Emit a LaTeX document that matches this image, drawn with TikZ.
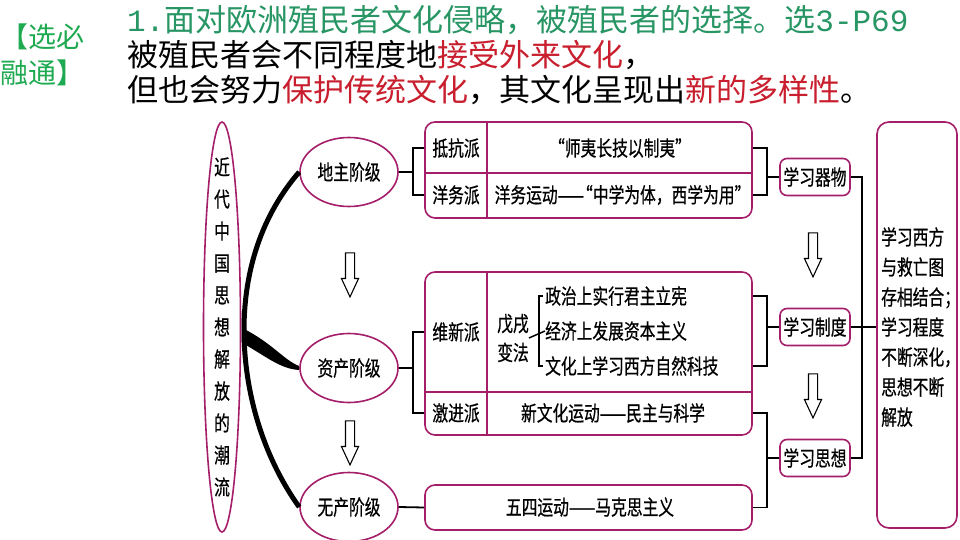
\documentclass[tikz,border=0pt]{standalone}
\usepackage{fontspec}
\newfontfamily\cjk{Noto Sans CJK SC}
\newfontfamily\cjkschmal[FakeStretch=0.75,FakeBold=0.6]{Noto Sans CJK SC}
\newfontfamily\ziffern{Liberation Mono}
\usetikzlibrary{shapes.geometric,shapes.arrows}
\definecolor{rahmen}{RGB}{165,30,105}
\definecolor{gruen}{RGB}{40,150,100}
\definecolor{hellgruen}{RGB}{30,170,80}
\definecolor{rot}{RGB}{200,30,45}
\newcommand{\dgfont}{\cjkschmal\fontsize{21}{24}\selectfont}
\tikzset{
  kopf/.style={anchor=west, inner sep=0pt, font=\cjk\fontsize{31}{34}\selectfont},
  stufe/.style={ellipse, draw=rahmen, line width=1.6pt, minimum width=98pt,
    minimum height=69pt, inner sep=0pt, font=\dgfont},
  tafel/.style={draw=rahmen, line width=1.6pt, rounded corners=10pt, inner sep=0pt},
  lernbox/.style={draw=rahmen, line width=1.6pt, rounded corners=7pt,
    minimum width=70pt, minimum height=37pt, inner sep=0pt, font=\dgfont},
  feld/.style={inner sep=0pt, font=\dgfont},
  teiler/.style={draw=rahmen, line width=1.4pt},
  verbindung/.style={line width=1.8pt, black},
  pfeil/.style={single arrow, draw, line width=1.1pt, shape border rotate=270,
    minimum height=44pt, inner sep=4pt, single arrow head extend=4pt,
    single arrow tip angle=50}
}
\begin{document}
\begin{tikzpicture}[x=1pt,y=-1pt]
  \useasboundingbox (0,0) rectangle (960,540);
  \fill[white] (0,0) rectangle (960,540);

  % Kopfzeilen
  \node[kopf, text=hellgruen, font=\cjk\fontsize{28}{30}\selectfont] (marke1) at (0,37) {【选必};
  \node[kopf, text=hellgruen, font=\cjk\fontsize{28}{30}\selectfont] (marke2) at (0,73) {融通】};
  \node[kopf, text=gruen] (titel) at (127,20) {{\ziffern 1.}面对欧洲殖民者文化侵略，被殖民者的选择。选{\ziffern 3-P69}};
  \node[kopf] (zeile1) at (127,55) {被殖民者会不同程度地\textcolor{rot}{接受外来文化}，};
  \node[kopf] (zeile2) at (127,90) {但也会努力\textcolor{rot}{保护传统文化}，其文化呈现出\textcolor{rot}{新的多样性}。};

  % linke Ellipse
  \node[feld, align=center, font=\cjkschmal\fontsize{21}{32}\selectfont] (strom) at (222,327)
    {近\\代\\中\\国\\思\\想\\解\\放\\的\\潮\\流};
  \draw[draw=rahmen, line width=1.6pt] (strom.center) ellipse [x radius=18.5, y radius=205];

  % Klassen
  \node[stufe] (dizhu) at (349,172) {地主阶级};
  \node[stufe] (zichan) at (349,368) {资产阶级};
  \node[stufe] (wuchan) at (349,507) {无产阶级};
  \node[pfeil] (pf1) at (350,270) {};
  \node[pfeil] (pf2) at (350,438) {};

  % dicker Bogen
  \draw[line width=5pt] (dizhu.west) .. controls (262,215) and (244,270) .. (244,330)
    .. controls (244,390) and (262,455) .. (wuchan.west);
  \fill (244,329) .. controls (272,343) and (285,361) .. ([yshift=2pt]zichan.west)
    -- ([yshift=-2pt]zichan.west) .. controls (280,369) and (264,355) .. (244,344) -- cycle;

  % Tafeln
  \node[tafel, minimum width=327pt, minimum height=96pt] (p1) at (588.5,170) {};
  \draw[teiler] (487,122) -- (487,218);
  \draw[teiler] (425,173) -- (752,173);
  \node[feld] (kang) at (456,148) {抵抗派};
  \node[feld] (kangtxt) at (620,148) {\kern-4pt“师夷长技以制夷”\kern-4pt};
  \node[feld] (yang) at (456,195) {洋务派};
  \node[feld] (yangtxt) at (619,195) {洋务运动——\kern-7pt“中学为体，西学为用”\kern-7pt};

  \node[tafel, minimum width=327pt, minimum height=163pt] (p2) at (588.5,353.5) {};
  \draw[teiler] (487,272) -- (487,435);
  \draw[teiler] (425,392) -- (752,392);
  \node[feld] (weixin) at (456,332) {维新派};
  \node[feld, align=center, font=\cjkschmal\fontsize{21}{29}\selectfont] (wuxu) at (513,338) {戊戌\\变法};
  \node[feld, anchor=west] (zz) at (545,296) {政治上实行君主立宪};
  \node[feld, anchor=west] (jj) at (545,331) {经济上发展资本主义};
  \node[feld, anchor=west] (wh) at (545,366) {文化上学习西方自然科技};
  \node[feld] (jijin) at (456,413) {激进派};
  \node[feld] (jijintxt) at (613,413) {新文化运动——民主与科学};

  \node[tafel, minimum width=327pt, minimum height=45pt] (p3) at (588.5,507.5) {};
  \node[feld] (wusi) at (590,507) {五四运动——马克思主义};

  % rechte Spalte
  \node[lernbox] (qiwu) at (815,177) {学习器物};
  \node[lernbox] (zhidu) at (815,327) {学习制度};
  \node[lernbox] (sixiang) at (815,458) {学习思想};
  \node[pfeil] (pf3) at (813,250) {};
  \node[pfeil] (pf4) at (813,391) {};

  \node[tafel, rounded corners=12pt, minimum width=80pt, minimum height=406pt] (ziel) at (917,325) {};
  \node[feld, anchor=west, align=left, font=\cjkschmal\fontsize{21}{30}\selectfont] (fazit) at (881,327)
    {学习西方\\与救亡图\\存相结合；\\学习程度\\不断深化，\\思想不断\\解放};

  % Verbindungen
  \coordinate (l1) at (413,172);
  \coordinate (l2) at (413,368);
  \coordinate (bw) at (539,331);
  \coordinate (r1) at (767,177);
  \coordinate (r2) at (767,327);
  \coordinate (r3) at (767,458);
  \coordinate (r4) at (862,327);
  \draw[verbindung] (dizhu.east) -- (l1);
  \draw[verbindung] (p1.west |- kang) -| (l1) |- (p1.west |- yang);
  \draw[verbindung] (zichan.east) -- (l2);
  \draw[verbindung] (p2.west |- weixin) -| (l2) |- (p2.west |- jijin);
  \draw[verbindung] (wuchan.east) -- (p3.west);
  \draw[verbindung, line width=1.5pt] (wuxu.east) -- (jj.west);
  \draw[verbindung, line width=1.5pt] ([xshift=-2pt]zz.west) -| (bw) |- ([xshift=-2pt]wh.west);
  \draw[verbindung] (p1.east |- kang) -| (r1) |- (p1.east |- yang);
  \draw[verbindung] (r1) -- (qiwu.west);
  \draw[verbindung] (p2.east |- zz) -| (r2) |- (p2.east |- wh);
  \draw[verbindung] (r2) -- (zhidu.west);
  \draw[verbindung] (p2.east |- jijin) -| (r3) |- (p3.east);
  \draw[verbindung] (r3) -- (sixiang.west);
  \draw[verbindung] (qiwu.east) -| (r4) |- (sixiang.east);
  \draw[verbindung] (zhidu.east) -- (ziel.west |- zhidu);
\end{tikzpicture}
\end{document}
